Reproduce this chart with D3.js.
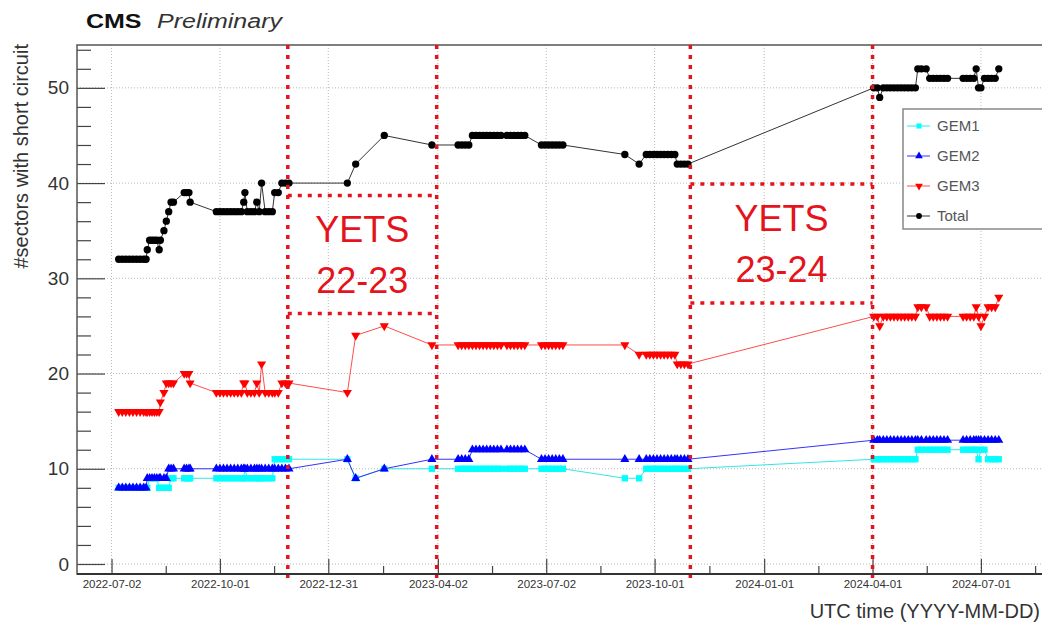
<!DOCTYPE html>
<html>
<head>
<meta charset="utf-8">
<script src="https://cdn.jsdelivr.net/npm/d3@7"></script>
<style>
  body { margin: 0; background: #fff; }
  svg { font-family: "Liberation Sans", Arial, Helvetica, sans-serif; }
</style>
</head>
<body>
<div id="chart"></div>
<script>

// measurement dates (one per point, shared by all series)
var dates = [
    "2022-07-08","2022-07-11","2022-07-14","2022-07-17","2022-07-20","2022-07-23","2022-07-26","2022-07-29","2022-07-31",
    "2022-08-01","2022-08-03","2022-08-05","2022-08-07","2022-08-09","2022-08-11","2022-08-12","2022-08-15","2022-08-17",
    "2022-08-19","2022-08-21","2022-08-23","2022-09-01","2022-09-03","2022-09-05","2022-09-06",
    "2022-09-28","2022-10-01","2022-10-04","2022-10-07","2022-10-10","2022-10-13","2022-10-16","2022-10-19",
    "2022-10-21","2022-10-22","2022-10-24","2022-10-27","2022-10-30","2022-11-01","2022-11-03","2022-11-05",
    "2022-11-08","2022-11-11","2022-11-14","2022-11-16","2022-11-19","2022-11-22","2022-11-25","2022-11-28",
    "2023-01-16","2023-01-23","2023-02-16","2023-03-28",
    "2023-04-19","2023-04-22","2023-04-25","2023-04-28","2023-05-01","2023-05-04","2023-05-07","2023-05-10",
    "2023-05-13","2023-05-16","2023-05-19","2023-05-22","2023-05-25","2023-05-30","2023-06-02","2023-06-05",
    "2023-06-08","2023-06-11","2023-06-14",
    "2023-06-28","2023-07-01","2023-07-04","2023-07-07","2023-07-10","2023-07-13","2023-07-16",
    "2023-09-06","2023-09-18","2023-09-24","2023-09-27","2023-09-30","2023-10-03","2023-10-06","2023-10-09",
    "2023-10-12","2023-10-15","2023-10-18","2023-10-20","2023-10-23","2023-10-26","2023-10-29",
    "2024-04-02","2024-04-05","2024-04-07","2024-04-10","2024-04-13","2024-04-16","2024-04-19","2024-04-22",
    "2024-04-25","2024-04-28","2024-05-01","2024-05-04","2024-05-07","2024-05-09","2024-05-12","2024-05-16",
    "2024-05-19","2024-05-22","2024-05-25","2024-05-28","2024-05-31","2024-06-03",
    "2024-06-16","2024-06-19","2024-06-22","2024-06-25","2024-06-27","2024-06-29","2024-07-01","2024-07-04",
    "2024-07-07","2024-07-10","2024-07-13","2024-07-16"
];

var gem1 = [
    8,8,8,8,8,8,8,8,8,
    8,9,9,9,9,8,8,8,8,
    8,9,9,9,9,9,9,
    9,9,9,9,9,9,9,9,
    9,10,9,9,9,9,9,9,
    9,9,9,11,11,11,11,11,
    11,9,10,10,
    10,10,10,10,10,10,10,10,
    10,10,10,10,10,10,10,10,
    10,10,10,
    10,10,10,10,10,10,10,
    9,9,10,10,10,10,10,10,
    10,10,10,10,10,10,10,
    11,11,11,11,11,11,11,11,
    11,11,11,11,11,12,12,12,
    12,12,12,12,12,12,
    12,12,12,12,12,11,12,12,
    11,11,11,11
];

var gem2 = [
    8,8,8,8,8,8,8,8,8,
    9,9,9,9,9,9,9,9,9,
    10,10,10,10,10,10,10,
    10,10,10,10,10,10,10,10,
    10,10,10,10,10,10,10,10,
    10,10,10,10,10,10,10,10,
    11,9,10,11,
    11,11,11,11,12,12,12,12,
    12,12,12,12,12,12,12,12,
    12,12,12,
    11,11,11,11,11,11,11,
    11,11,11,11,11,11,11,11,
    11,11,11,11,11,11,11,
    13,13,13,13,13,13,13,13,
    13,13,13,13,13,13,13,13,
    13,13,13,13,13,13,
    13,13,13,13,13,13,13,13,
    13,13,13,13
];

var gem3 = [
    16,16,16,16,16,16,16,16,16,
    16,16,16,16,16,16,17,18,19,
    19,19,19,20,20,20,19,
    18,18,18,18,18,18,18,18,
    19,19,18,18,18,19,18,21,
    18,18,18,18,18,19,19,19,
    18,24,25,23,
    23,23,23,23,23,23,23,23,
    23,23,23,23,23,23,23,23,
    23,23,23,
    23,23,23,23,23,23,23,
    23,22,22,22,22,22,22,22,
    22,22,22,21,21,21,21,
    26,26,25,26,26,26,26,26,
    26,26,26,26,26,27,27,27,
    26,26,26,26,26,26,
    26,26,26,26,27,26,25,26,
    27,27,27,28
];

var total = [
    32,32,32,32,32,32,32,32,32,
    33,34,34,34,34,33,34,35,36,
    37,38,38,39,39,39,38,
    37,37,37,37,37,37,37,37,
    38,39,37,37,37,38,37,40,
    37,37,37,39,39,40,40,40,
    40,42,45,44,
    44,44,44,44,45,45,45,45,
    45,45,45,45,45,45,45,45,
    45,45,45,
    44,44,44,44,44,44,44,
    43,42,43,43,43,43,43,43,
    43,43,43,42,42,42,42,
    50,50,49,50,50,50,50,50,
    50,50,50,50,50,52,52,52,
    51,51,51,51,51,51,
    51,51,51,51,52,50,50,51,
    51,51,51,52
];

var seriesNames = ["GEM1", "GEM2", "GEM3", "Total"];
var seriesColors = ["#00ffff", "#0000ff", "#ff0000", "#000000"];
var lineColors = ["#33e6e6", "#3333ff", "#ff4d4d", "#333333"];

// axis ticks
var xMajorTicks = ["2022-07-02", "2022-10-01", "2022-12-31", "2023-04-02", "2023-07-02",
                   "2023-10-01", "2024-01-01", "2024-04-01", "2024-07-01"];
var yMajorTicks = [0, 10, 20, 30, 40, 50];
var yMinorTicks = [2, 4, 6, 8, 12, 14, 16, 18, 22, 24, 26, 28, 32, 34, 36, 38, 42, 44, 46, 48, 52, 54];

// year end technical stops
var yetsDates = ["2022-11-27", "2023-04-01", "2023-10-31", "2024-04-01"];
var yetsBoxes = [
    {from: "2022-11-27", to: "2023-04-01", low: 26.3, high: 38.7, label: ["YETS", "22-23"]},
    {from: "2023-10-31", to: "2024-04-01", low: 27.4, high: 39.9, label: ["YETS", "23-24"]}
];


var svgWidth = 1042;
var svgHeight = 624;
var margin = {"top": 45, "bottom": 50, "left": 77, "right": -8};
var parse = d3.utcParse("%Y-%m-%d");

var svg = d3.select("#chart").append("svg")
            .attr("width", svgWidth)
            .attr("height", svgHeight);

var xScale = d3.scaleUtc()
            .domain([parse("2022-06-03"), parse("2024-08-28")])
            .range([margin.left, svgWidth - margin.right]);

var yScale = d3.scaleLinear()
            .domain([-1.05, 54.5])
            .range([svgHeight - margin.bottom, margin.top]);

var x0 = margin.left, x1 = svgWidth - margin.right;
var y0 = svgHeight - margin.bottom, y1 = margin.top;

var xMajor = xMajorTicks.map(parse);
// minor ticks halfway between the labelled ones
var xMinor = [];
for (var i = 0; i < xMajor.length; i++) {
    var next = (i < xMajor.length - 1) ? xMajor[i + 1]
             : new Date(2 * xMajor[i] - xMajor[i - 1]);
    xMinor.push(new Date((+xMajor[i] + +next) / 2));
}

// grid
svg.append("g").selectAll("line.vgrid")
    .data(xMajor).enter().append("line")
    .attr("x1", d => xScale(d)).attr("x2", d => xScale(d))
    .attr("y1", y1).attr("y2", y0)
    .attr("stroke", "#b8b8b8").attr("stroke-width", 1)
    .attr("stroke-dasharray", "1,2");

svg.append("g").selectAll("line.hgrid")
    .data(yMajorTicks).enter().append("line")
    .attr("x1", x0).attr("x2", x1)
    .attr("y1", d => yScale(d)).attr("y2", d => yScale(d))
    .attr("stroke", "#b8b8b8").attr("stroke-width", 1)
    .attr("stroke-dasharray", "1,2");

// axes (ticks drawn inside the frame, ROOT style)
var xAxis = d3.axisBottom(xScale)
            .tickValues(xMajor)
            .tickSize(-15)
            .tickSizeOuter(0)
            .tickPadding(6)
            .tickFormat(d3.utcFormat("%Y-%m-%d"));

var xAxisMinor = d3.axisBottom(xScale)
            .tickValues(xMinor)
            .tickSize(-8)
            .tickSizeOuter(0)
            .tickFormat("");

var yAxis = d3.axisLeft(yScale)
            .tickValues(yMajorTicks)
            .tickSize(-28)
            .tickSizeOuter(0)
            .tickPadding(8);

var yAxisMinor = d3.axisLeft(yScale)
            .tickValues(yMinorTicks)
            .tickSize(-14)
            .tickSizeOuter(0)
            .tickFormat("");

svg.append("g")
    .attr("class", "xAxisMinor")
    .attr("transform", "translate(0, " + y0 + ")")
    .call(xAxisMinor);

svg.append("g")
    .attr("class", "xAxis")
    .attr("transform", "translate(0, " + y0 + ")")
    .call(xAxis)
        .selectAll("text")
        .attr("font-size", "11.5px")
        .attr("fill", "#333");

svg.append("g")
    .attr("class", "yAxisMinor")
    .attr("transform", "translate(" + x0 + ", 0)")
    .call(yAxisMinor);

svg.append("g")
    .attr("class", "yAxis")
    .attr("transform", "translate(" + x0 + ", 0)")
    .call(yAxis)
        .selectAll("text")
        .attr("font-size", "19px")
        .attr("fill", "#333");

svg.selectAll(".xAxis path, .yAxis path, .xAxisMinor path, .yAxisMinor path").remove();
svg.selectAll(".tick line").attr("stroke", "#444").attr("stroke-width", 1.2);

// frame
svg.append("rect")
    .attr("x", x0).attr("y", y1)
    .attr("width", x1 - x0).attr("height", y0 - y1)
    .attr("fill", "none")
    .attr("stroke", "#555")
    .attr("stroke-width", 1.5);

svg.append("line")
    .attr("x1", x0).attr("x2", x1)
    .attr("y1", y0).attr("y2", y0)
    .attr("stroke", "#333").attr("stroke-width", 2);

// data series
var seriesValues = [gem1, gem2, gem3, total];
var symbolTypes = [d3.symbolSquare, d3.symbolTriangle, d3.symbolTriangle, d3.symbolCircle];
var symbolSizes = [40, 36, 36, 42];
var rotations = [0, 0, 180, 0];

var line = d3.line()
            .x(d => xScale(d.date))
            .y(d => yScale(d.v));

seriesValues.forEach(function(vals, k) {
    var pts = dates.map((d, i) => ({date: parse(d), v: vals[i]}));
    var g = svg.append("g").attr("class", "series-" + seriesNames[k]);

    g.append("path")
        .datum(pts)
        .attr("d", line)
        .attr("fill", "none")
        .attr("stroke", lineColors[k])
        .attr("stroke-width", 1);

    g.selectAll("path.marker")
        .data(pts).enter().append("path")
        .attr("class", "marker")
        .attr("d", d3.symbol().type(symbolTypes[k]).size(symbolSizes[k]))
        .attr("transform", d => "translate(" + xScale(d.date) + "," + yScale(d.v) + ")"
                               + " rotate(" + rotations[k] + ")")
        .attr("fill", seriesColors[k]);
});

// YETS annotations
var yetsRed = "#e5141c";

svg.append("g").selectAll("line.yets")
    .data(yetsDates).enter().append("line")
    .attr("x1", d => xScale(parse(d))).attr("x2", d => xScale(parse(d)))
    .attr("y1", y1).attr("y2", y0 + 4)
    .attr("stroke", yetsRed)
    .attr("stroke-width", 3.5)
    .attr("stroke-dasharray", "4,6");

yetsBoxes.forEach(function(b) {
    var xa = xScale(parse(b.from)), xb = xScale(parse(b.to));
    [b.low, b.high].forEach(function(v) {
        svg.append("line")
            .attr("x1", xa).attr("x2", xb)
            .attr("y1", yScale(v)).attr("y2", yScale(v))
            .attr("stroke", yetsRed)
            .attr("stroke-width", 3.5)
            .attr("stroke-dasharray", "4,6");
    });
    var top = yScale(b.high);
    svg.append("g").selectAll("text")
        .data(b.label).enter().append("text")
        .attr("x", (xa + xb) / 2)
        .attr("y", (d, i) => top + 47 + i * 51)
        .attr("text-anchor", "middle")
        .attr("font-size", "36px")
        .attr("fill", yetsRed)
        .text(d => d);
});

// legend
var legend = svg.append("g").attr("transform", "translate(903, 109)");
legend.append("rect")
    .attr("width", 150).attr("height", 120)
    .attr("fill", "#fff")
    .attr("stroke", "#888")
    .attr("stroke-width", 1.5);

seriesNames.forEach(function(name, k) {
    var ly = 17 + k * 30;
    legend.append("line")
        .attr("x1", 4).attr("x2", 27)
        .attr("y1", ly).attr("y2", ly)
        .attr("stroke", lineColors[k]).attr("stroke-width", 1);
    legend.append("path")
        .attr("d", d3.symbol().type(symbolTypes[k]).size(26))
        .attr("transform", "translate(16," + ly + ") rotate(" + rotations[k] + ")")
        .attr("fill", seriesColors[k]);
    legend.append("text")
        .attr("x", 34).attr("y", ly)
        .attr("dy", "0.35em")
        .attr("font-size", "15px")
        .attr("fill", "#555")
        .text(name);
});

// titles
svg.append("text")
    .attr("transform", "translate(86, 28) scale(1.25, 1)")
    .attr("font-size", "20px")
    .attr("font-weight", "bold")
    .attr("fill", "#111")
    .text("CMS");

svg.append("text")
    .attr("transform", "translate(157, 28) scale(1.25, 1)")
    .attr("font-size", "20px")
    .attr("font-style", "italic")
    .attr("fill", "#333")
    .text("Preliminary");

svg.append("text")
    .attr("transform", "translate(28, 44) rotate(-90)")
    .attr("text-anchor", "end")
    .attr("font-size", "20px")
    .attr("fill", "#333")
    .text("#sectors with short circuit");

svg.append("text")
    .attr("x", 1040).attr("y", 618)
    .attr("text-anchor", "end")
    .attr("font-size", "20px")
    .attr("fill", "#333")
    .text("UTC time (YYYY-MM-DD)");

</script>
</body>
</html>
